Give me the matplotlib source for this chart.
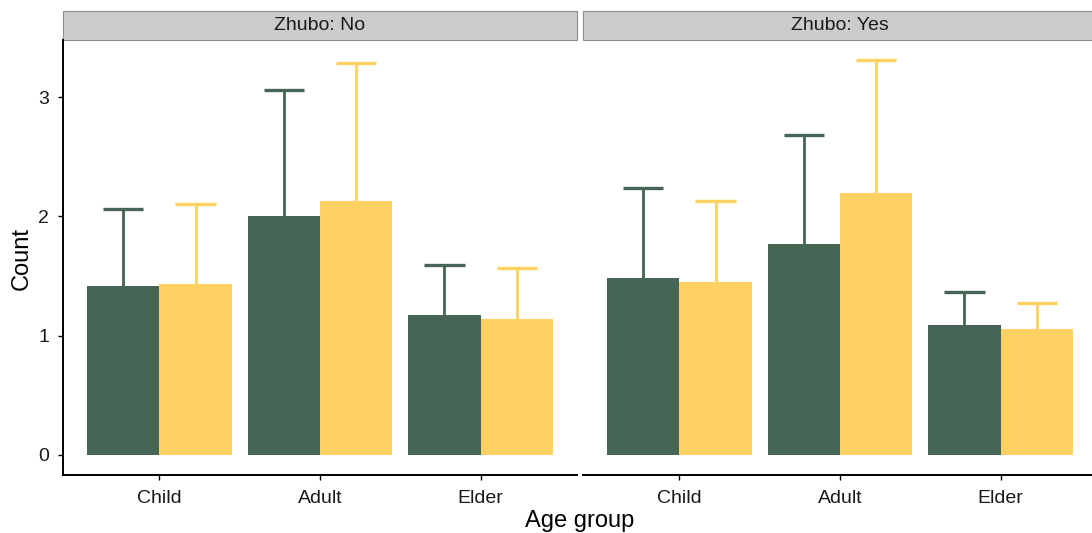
import matplotlib
matplotlib.use("Agg")
import matplotlib.pyplot as plt
from matplotlib.patches import Rectangle
import numpy as np

plt.rcParams['font.family'] = ['Liberation Sans', 'DejaVu Sans']

categories = ["Child", "Adult", "Elder"]
panels = ["Zhubo: No", "Zhubo: Yes"]
# bar means and upper error ends, per panel: [green series, yellow series]
means = {
    "Zhubo: No":  [[1.42, 2.00, 1.17], [1.43, 2.13, 1.14]],
    "Zhubo: Yes": [[1.48, 1.77, 1.09], [1.45, 2.20, 1.06]],
}
upper = {
    "Zhubo: No":  [[2.06, 3.06, 1.59], [2.10, 3.29, 1.57]],
    "Zhubo: Yes": [[2.24, 2.68, 1.37], [2.13, 3.31, 1.27]],
}
colors = ["#466555", "#FED162"]

W, H = 1092, 533
fig = plt.figure(figsize=(W / 100, H / 100), dpi=100)

bottom = (H - 475) / H
height = 435 / H
lefts = [63 / W, 583 / W]
width = 514 / W

x = np.arange(1, len(categories) + 1)
bw = 0.45
for pi, (panel, left) in enumerate(zip(panels, lefts)):
    ax = fig.add_axes([left, bottom, width, height])
    for si in range(2):
        offs = (si - 0.5) * bw
        xs = x + offs
        ax.bar(xs, means[panel][si], width=bw, color=colors[si], linewidth=0, zorder=2)
        ax.vlines(xs, means[panel][si], upper[panel][si], color=colors[si], linewidth=2.0, zorder=1)
        ax.hlines(upper[panel][si], xs - 0.125, xs + 0.125, color=colors[si], linewidth=2.4, zorder=1)
    ax.set_xlim(0.4, 3.6)
    ax.set_ylim(-0.168, 3.479)
    ax.set_xticks(x)
    ax.set_xticklabels(categories)
    ax.set_yticks([0, 1, 2, 3])
    ax.spines['top'].set_visible(False)
    ax.spines['right'].set_visible(False)
    ax.spines['bottom'].set_linewidth(1.4)
    ax.spines['left'].set_linewidth(1.4)
    ax.tick_params(axis='both', length=3.5, width=1.0, color='black', labelsize=14,
                   labelcolor='#1A1A1A')
    ax.tick_params(axis='x', pad=7.5)
    ax.tick_params(axis='y', pad=6.5)
    if pi == 1:
        ax.spines['left'].set_visible(False)
        ax.tick_params(axis='y', left=False, labelleft=False)
    # strip
    strip_h = 29 / 435
    rect = Rectangle((0, 1), 1, strip_h, transform=ax.transAxes, facecolor='#CCCCCC',
                     edgecolor='#8C8C8C', linewidth=0.8, clip_on=False)
    ax.add_patch(rect)
    ax.text(0.5, 1 + strip_h / 2, panel, transform=ax.transAxes, ha='center', va='center',
            fontsize=14, color='#1A1A1A')

fig.text(580 / W, 1 - 521 / H, "Age group", ha='center', va='center', fontsize=17)
fig.text(22 / W, 1 - 258 / H, "Count", ha='center', va='center', rotation=90, fontsize=17)

fig.savefig("out.png", dpi=100)
